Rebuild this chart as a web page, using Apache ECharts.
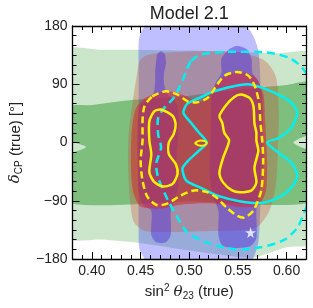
<!DOCTYPE html>
<html><head><meta charset="utf-8">
<script src="https://cdn.jsdelivr.net/npm/echarts@6/dist/echarts.min.js"></script>
<style>html,body{margin:0;padding:0;background:#fff}#c{width:313px;height:308px}</style>
</head><body><div id="c"></div>
<script>
// ---- tick values ----
const xMajor = [0.40, 0.45, 0.50, 0.55, 0.60];
const xMinor = [0.38,0.39,0.40,0.41,0.42,0.43,0.44,0.45,0.46,0.47,0.48,0.49,0.50,0.51,0.52,0.53,0.54,0.55,0.56,0.57,0.58,0.59,0.60,0.61,0.62];
const yMajor = [-180, -90, 0, 90, 180];

// ---- allowed regions: [sin^2 theta23, deltaCP] ----
const greenOuter = [[0.37,141],[0.41,143],[0.45,143],[0.50,142],[0.55,140],[0.59,138],[0.63,135],[0.63,-153],[0.60,-162],[0.566,-178],[0.54,-175],[0.50,-167],[0.447,-155],[0.41,-150],[0.37,-145]];
const greenInner = [[0.37,54],[0.40,58],[0.443,66],[0.497,72],[0.553,82],[0.60,89],[0.63,93],[0.63,10],[0.62,10],[0.607,0],[0.62,-10],[0.63,-10],[0.63,-90],[0.50,-91],[0.37,-91],[0.37,-16],[0.379,-16],[0.394,-7],[0.379,1],[0.37,1]];
const blueOuter = [[0.448,100],[0.448,156],[0.450,169],[0.453,177],[0.46,190],[0.50,195],[0.55,192],[0.561,176],[0.566,164],[0.571,142],[0.573,100],[0.573,0],[0.573,-100],[0.571,-155],[0.566,-178],[0.56,-192],[0.50,-198],[0.455,-192],[0.453,-177],[0.449,-166],[0.448,-151],[0.448,0]];
const redOuter = [[0.446,103],[0.449,126],[0.455,134],[0.466,138],[0.512,141],[0.553,139],[0.578,126],[0.589,102],[0.592,49],[0.591,-12],[0.589,-66],[0.582,-107],[0.568,-132],[0.512,-137],[0.455,-137],[0.443,-123],[0.439,-89],[0.437,-28],[0.438,18],[0.442,64]];
const blueInnerLeft = [[0.467,136],[0.471,141],[0.475,136],[0.476,122],[0.474,107],[0.474,92],[0.477,76],[0.483,67],[0.488,56],[0.489,18],[0.487,-28],[0.489,-66],[0.485,-89],[0.481,-105],[0.481,-143],[0.476,-154],[0.466,-154],[0.461,-143],[0.461,-105],[0.453,-97],[0.448,-74],[0.447,-28],[0.447,33],[0.450,58],[0.461,69],[0.464,79],[0.465,95],[0.465,110],[0.466,126]];
const blueInnerRight = [[0.541,144],[0.549,149],[0.559,144],[0.564,129],[0.565,107],[0.571,95],[0.575,72],[0.576,3],[0.576,-51],[0.571,-82],[0.569,-105],[0.569,-148],[0.563,-160],[0.549,-163],[0.534,-159],[0.530,-143],[0.530,-105],[0.524,-82],[0.521,-43],[0.522,3],[0.523,72],[0.527,92],[0.533,107],[0.533,129]];
const redInner = [[0.455,69],[0.476,79],[0.491,75],[0.512,63],[0.524,83],[0.537,103],[0.553,109],[0.568,101],[0.576,76],[0.578,33],[0.580,-28],[0.579,-74],[0.571,-97],[0.553,-100],[0.522,-94],[0.491,-96],[0.471,-102],[0.450,-99],[0.442,-74],[0.440,-28],[0.441,18],[0.445,52]];

// ---- contour lines ----
const yellowSolidLeft = [[0.471,51],[0.483,41],[0.486,28],[0.484,13],[0.479,0],[0.479,-18],[0.486,-33],[0.488,-48],[0.483,-64],[0.473,-68],[0.464,-61],[0.459,-46],[0.461,-18],[0.459,3],[0.459,33],[0.464,48]];
const yellowSolidRight = [[0.553,74],[0.562,69],[0.566,56],[0.567,30],[0.569,15],[0.569,3],[0.571,-13],[0.567,-39],[0.569,-62],[0.564,-74],[0.552,-77],[0.544,-74],[0.535,-62],[0.531,-47],[0.535,-23],[0.541,3],[0.536,15],[0.534,30],[0.531,41],[0.538,58],[0.546,70]];
const yellowSolidCenter = [[0.506,-1],[0.509,2],[0.512,3],[0.516,2],[0.518,-1],[0.516,-4],[0.512,-5],[0.509,-4]];
const yellowDashed = [[0.462,71],[0.476,79],[0.488,74],[0.498,64],[0.508,62],[0.519,69],[0.529,90],[0.536,103],[0.549,109],[0.561,103],[0.568,85],[0.572,59],[0.573,33],[0.575,3],[0.576,-28],[0.574,-74],[0.566,-105],[0.557,-116],[0.549,-113],[0.538,-100],[0.528,-85],[0.519,-77],[0.505,-74],[0.491,-82],[0.478,-94],[0.467,-97],[0.457,-84],[0.452,-59],[0.450,-28],[0.452,3],[0.452,35],[0.454,56]];
const cyanSolid = [[0.494,46],[0.502,30],[0.509,17],[0.518,0],[0.509,-14],[0.499,-28],[0.493,-40],[0.497,-59],[0.512,-70],[0.529,-82],[0.553,-91],[0.576,-93],[0.594,-83],[0.606,-68],[0.611,-51],[0.606,-33],[0.592,-16],[0.580,0],[0.592,7],[0.605,23],[0.611,46],[0.604,63],[0.590,75],[0.576,84],[0.560,90],[0.546,87],[0.525,79],[0.512,70],[0.498,60]];
const cyanDashed = [[0.502,126],[0.512,136],[0.539,140],[0.580,139],[0.604,130],[0.619,110],[0.629,72],[0.633,3],[0.629,-66],[0.619,-105],[0.611,-132],[0.597,-151],[0.573,-162],[0.546,-165],[0.519,-155],[0.498,-139],[0.488,-116],[0.478,-89],[0.468,-54],[0.466,-33],[0.471,-8],[0.468,13],[0.468,38],[0.474,53],[0.484,69],[0.493,95],[0.498,115]];
const truePoint = [[0.563,-139]];

const FONT = 'Liberation Sans';
function fillRegion(pts, color) {
  return {
    type: 'custom', coordinateSystem: 'cartesian2d', xAxisIndex: 0, yAxisIndex: 0,
    clip: true, silent: true, data: pts, z: 2,
    renderItem: function (params, api) {
      if (params.dataIndex !== 0) return null;
      return { type: 'polygon', shape: { points: pts.map(p => api.coord(p)), smooth: 0.25 },
               style: { fill: color, stroke: null } };
    }
  };
}
function lineRegion(pts, color, width, dash) {
  return {
    type: 'custom', coordinateSystem: 'cartesian2d', xAxisIndex: 0, yAxisIndex: 0,
    clip: true, silent: true, data: pts, z: 3,
    renderItem: function (params, api) {
      if (params.dataIndex !== 0) return null;
      return { type: 'polygon', shape: { points: pts.map(p => api.coord(p)), smooth: 0.25 },
               style: { fill: 'none', stroke: color, lineWidth: width, lineDash: dash || null, lineJoin: 'round' } };
    }
  };
}

const chart = echarts.init(document.getElementById('c'), null, { renderer: 'canvas' });
const axisCommon = {
  type: 'value', z: 10, splitLine: { show: false },
  axisLine: { show: true, onZero: false, lineStyle: { color: '#000', width: 1.3 } }
};
const hiddenLine = { show: false, onZero: false };
const star = 'path://M50,0 L61,35 L98,35 L68,57 L79,91 L50,70 L21,91 L32,57 L2,35 L39,35 Z';
chart.setOption({
  animation: false,
  backgroundColor: '#fff',
  grid: { left: 72, right: 7, top: 24, bottom: 49, containLabel: false },
  xAxis: [
    Object.assign({}, axisCommon, { min: 0.38, max: 0.62, position: 'bottom',
      axisTick: { show: true, inside: true, length: 7, customValues: xMajor, lineStyle: { color: '#000', width: 1 } },
      axisLabel: { show: true, customValues: xMajor, formatter: v => v.toFixed(2), margin: 5, fontSize: 14, color: '#222', fontFamily: FONT },
      name: 'sin{sup|2} {it|θ}{sub|23} (true)', nameLocation: 'middle', nameGap: 22,
      nameTextStyle: { fontSize: 15, color: '#222', fontFamily: FONT,
        rich: { sup: { fontSize: 10, fontFamily: FONT, color: '#222', padding: [0, 0, 8, 0], verticalAlign: 'bottom' },
                it: { fontSize: 15, fontStyle: 'italic', fontFamily: 'DejaVu Serif', color: '#222' },
                sub: { fontSize: 10, fontFamily: FONT, color: '#222', padding: [8, 0, 0, 0], verticalAlign: 'top' } } } }),
    Object.assign({}, axisCommon, { min: 0.38, max: 0.62, position: 'bottom', axisLine: hiddenLine,
      axisTick: { show: true, inside: true, length: 4, customValues: xMinor, lineStyle: { color: '#000', width: 1 } },
      axisLabel: { show: false } }),
    Object.assign({}, axisCommon, { min: 0.38, max: 0.62, position: 'top',
      axisTick: { show: true, inside: true, length: 7, customValues: xMajor, lineStyle: { color: '#000', width: 1 } },
      axisLabel: { show: false },
      name: 'Model 2.1', nameLocation: 'middle', nameGap: 3,
      nameTextStyle: { fontSize: 18, color: '#222', fontFamily: FONT } }),
    Object.assign({}, axisCommon, { min: 0.38, max: 0.62, position: 'top', axisLine: hiddenLine,
      axisTick: { show: true, inside: true, length: 4, customValues: xMinor, lineStyle: { color: '#000', width: 1 } },
      axisLabel: { show: false } })
  ],
  yAxis: [
    Object.assign({}, axisCommon, { min: -180, max: 180, interval: 90, position: 'left',
      axisTick: { show: true, inside: true, length: 7, lineStyle: { color: '#000', width: 1 } },
      minorTick: { show: true, splitNumber: 6, length: 4, lineStyle: { color: '#000', width: 1 } },
      axisLabel: { formatter: v => String(v).replace('-', '\u2212'), margin: 5, fontSize: 14, color: '#222', fontFamily: FONT },
      name: '{it|δ}{sub|CP} (true) [°]', nameLocation: 'middle', nameRotate: 90, nameGap: 48,
      nameTextStyle: { fontSize: 15, color: '#222', fontFamily: FONT,
        rich: { it: { fontSize: 15, fontStyle: 'italic', fontFamily: 'DejaVu Serif', color: '#222' },
                sub: { fontSize: 10, fontFamily: FONT, color: '#222', padding: [8, 0, 0, 0], verticalAlign: 'top' } } } }),
    Object.assign({}, axisCommon, { min: -180, max: 180, interval: 90, position: 'right',
      axisTick: { show: true, inside: true, length: 7, lineStyle: { color: '#000', width: 1 } },
      minorTick: { show: true, splitNumber: 6, length: 4, lineStyle: { color: '#000', width: 1 } },
      axisLabel: { show: false } })
  ],
  series: [
    fillRegion(greenOuter, 'rgba(0,128,0,0.2)'),
    fillRegion(greenInner, 'rgba(0,128,0,0.38)'),
    fillRegion(blueOuter, 'rgba(0,0,255,0.25)'),
    fillRegion(redOuter, 'rgba(205,70,50,0.3)'),
    fillRegion(blueInnerLeft, 'rgba(85,55,215,0.5)'),
    fillRegion(blueInnerRight, 'rgba(85,55,215,0.5)'),
    fillRegion(redInner, 'rgba(215,40,45,0.55)'),
    lineRegion(cyanDashed, '#00f0f0', 2.5, [8, 5]),
    lineRegion(cyanSolid, '#00f0f0', 2.5),
    lineRegion(yellowDashed, '#fff000', 2.5, [7, 4]),
    lineRegion(yellowSolidLeft, '#fff000', 2.5),
    lineRegion(yellowSolidRight, '#fff000', 2.5),
    lineRegion(yellowSolidCenter, '#fff000', 2),
    { type: 'scatter', data: truePoint, symbol: star, symbolSize: 11, itemStyle: { color: '#fff' }, z: 5, silent: true }
  ]
});
</script></body></html>
